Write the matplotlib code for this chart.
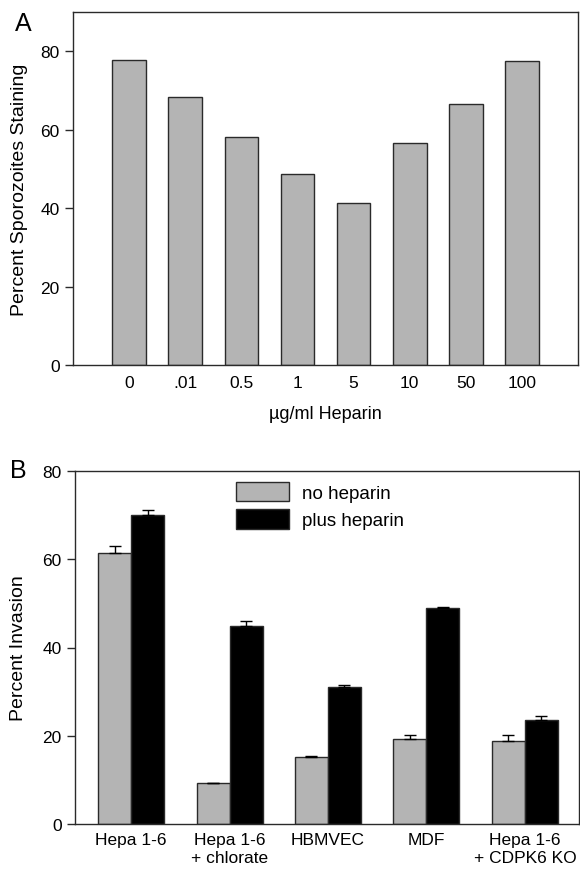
import matplotlib
matplotlib.use('Agg')
import matplotlib.pyplot as plt
import numpy as np

plt.rcParams['font.family'] = ['Liberation Sans', 'DejaVu Sans']

# Panel A data
doses = ['0', '.01', '0.5', '1', '5', '10', '50', '100']
staining = [77.8, 68.4, 58.1, 48.8, 41.3, 56.7, 66.5, 77.4]

# Panel B data
cells = ['Hepa 1-6', 'Hepa 1-6\n+ chlorate', 'HBMVEC', 'MDF', 'Hepa 1-6\n+ CDPK6 KO']
no_hep = [61.5, 9.4, 15.2, 19.3, 18.9]
no_hep_err = [1.4, 0.0, 0.2, 0.9, 1.3]
plus_hep = [70.0, 44.8, 31.1, 49.0, 23.5]
plus_hep_err = [1.1, 1.2, 0.5, 0.1, 1.0]

gray = '#b4b4b4'
edge = '#2a2a2a'
fs = 12.5

fig = plt.figure(figsize=(5.8, 8.7), dpi=100)

# ---- Panel A
ax1 = fig.add_axes([73/580, 1 - 366/870, 505/580, 353/870])
x = np.arange(len(doses))
ax1.bar(x, staining, width=0.6, color=gray, edgecolor=edge, linewidth=1)
ax1.set_xlim(-1, 8)
ax1.set_ylim(0, 90)
ax1.set_yticks([0, 20, 40, 60, 80])
ax1.set_xticks(x)
ax1.set_xticklabels(doses)
ax1.tick_params(axis='x', length=0, pad=7, labelsize=fs)
ax1.tick_params(axis='y', direction='out', length=6, width=1, labelsize=fs, color=edge)
ax1.set_xlabel('\u00b5g/ml Heparin', fontsize=13, labelpad=11)
ax1.set_ylabel('Percent Sporozoites Staining', fontsize=14)
ax1.yaxis.set_label_coords(-0.09, 0.5)
for s in ax1.spines.values():
    s.set_color(edge)
    s.set_linewidth(1)
fig.text(15/580, 1 - 24/870, 'A', fontsize=18, va='center', ha='left')

# ---- Panel B
ax2 = fig.add_axes([75/580, 1 - 825/870, 504/580, 353/870])
g = np.arange(len(cells))
w = 0.335
ax2.bar(g - w/2, no_hep, width=w, color=gray, edgecolor=edge, linewidth=1,
        label='no heparin')
ax2.bar(g + w/2, plus_hep, width=w, color='black', edgecolor=edge, linewidth=1,
        label='plus heparin')
ax2.errorbar(g - w/2, no_hep, yerr=[np.zeros(len(g)), no_hep_err], fmt='none',
             ecolor='black', elinewidth=1, capsize=4, capthick=1)
ax2.errorbar(g + w/2, plus_hep, yerr=[np.zeros(len(g)), plus_hep_err], fmt='none',
             ecolor='black', elinewidth=1, capsize=4, capthick=1)
ax2.set_xlim(-0.57, 4.55)
ax2.set_ylim(0, 80)
ax2.set_yticks([0, 20, 40, 60, 80])
ax2.set_xticks(g)
ax2.set_xticklabels(cells)
ax2.tick_params(axis='x', length=0, pad=6, labelsize=fs)
ax2.tick_params(axis='y', direction='out', length=6, width=1, labelsize=fs, color=edge)
ax2.set_ylabel('Percent Invasion', fontsize=14)
ax2.yaxis.set_label_coords(-0.095, 0.5)
for s in ax2.spines.values():
    s.set_color(edge)
    s.set_linewidth(1)
ax2.legend(loc='upper left', bbox_to_anchor=((236 - 75)/504, (825 - 483)/353),
           frameon=False, fontsize=13.5, borderpad=0, borderaxespad=0,
           handlelength=2.8, handleheight=1.2, labelspacing=0.4,
           handletextpad=0.7)
fig.text(10/580, 1 - 471/870, 'B', fontsize=18, va='center', ha='left')

fig.savefig('out.png', dpi=100)
